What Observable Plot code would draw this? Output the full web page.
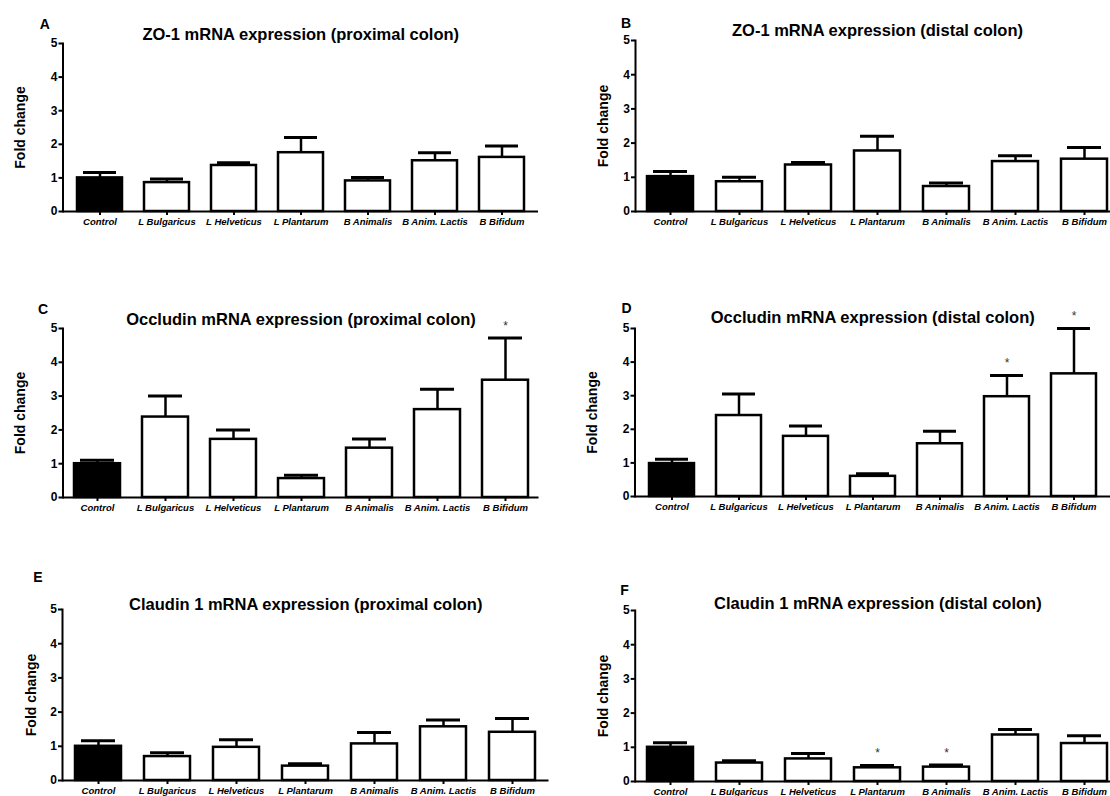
<!DOCTYPE html>
<html><head><meta charset="utf-8">
<script src="https://cdn.jsdelivr.net/npm/d3@7"></script>
<script src="https://cdn.jsdelivr.net/npm/@observablehq/plot@0.6"></script>
<style>
html,body{margin:0;padding:0;background:#fff;overflow:hidden}
#page{position:relative;width:1110px;height:796px;overflow:hidden;background:#fff}
#page svg{position:absolute;overflow:visible}
</style></head><body><div id="page"></div>
<script>
const categories = ["Control","L Bulgaricus","L Helveticus","L Plantarum","B Animalis","B Anim. Lactis","B Bifidum"];
const yTicks = [0,1,2,3,4,5];
const yLabel = "Fold change";

const zo1ProximalMean  = [1.00,0.86,1.37,1.75,0.91,1.51,1.61];
const zo1ProximalUpper = [1.16,0.97,1.45,2.20,1.01,1.75,1.95];
const zo1DistalMean    = [1.02,0.87,1.36,1.77,0.73,1.46,1.53];
const zo1DistalUpper   = [1.17,1.00,1.43,2.20,0.83,1.63,1.87];
const occludinProximalMean  = [1.00,2.38,1.72,0.56,1.46,2.60,3.47];
const occludinProximalUpper = [1.10,3.00,2.00,0.66,1.73,3.20,4.72];
const occludinDistalMean    = [0.98,2.41,1.79,0.60,1.57,2.97,3.65];
const occludinDistalUpper   = [1.11,3.05,2.10,0.68,1.94,3.60,5.00];
const claudinProximalMean   = [1.00,0.70,0.97,0.42,1.07,1.57,1.41];
const claudinProximalUpper  = [1.16,0.81,1.19,0.49,1.40,1.77,1.81];
const claudinDistalMean     = [1.00,0.54,0.66,0.40,0.42,1.36,1.11];
const claudinDistalUpper    = [1.13,0.61,0.82,0.47,0.48,1.52,1.34];

const occludinProximalStars = ["B Bifidum"];
const occludinDistalStars = ["B Anim. Lactis","B Bifidum"];
const claudinDistalStars = ["L Plantarum","B Animalis"];

const panelLetters = ["A","B","C","D","E","F"];
const panelTitles = [
  "ZO-1 mRNA expression (proximal colon)",
  "ZO-1 mRNA expression (distal colon)",
  "Occludin mRNA expression (proximal colon)",
  "Occludin mRNA expression (distal colon)",
  "Claudin 1 mRNA expression (proximal colon)",
  "Claudin 1 mRNA expression (distal colon)"
];

const FONT = '"Liberation Sans", Arial, Helvetica, sans-serif';
const page = document.getElementById("page");

const layouts = [
  {left:0,   w:555, x0:62.5, x1:538,  y5:43,  y0:211, tDy:-8.5, lDx:-18.2, lDy:-19,   fDx:-42},
  {left:555, w:600, x0:635,  x1:1119, y5:40,  y0:211, tDy:-10,  lDx:-9.5,  lDy:-17,   fDx:-32},
  {left:0,   w:555, x0:62.5, x1:538.5,y5:328, y0:497, tDy:-9,   lDx:-20,   lDy:-19.4, fDx:-42},
  {left:555, w:600, x0:634.5,x1:1110, y5:328, y0:496, tDy:-10.5,lDx:-8.5,  lDy:-20.3, fDx:-42},
  {left:0,   w:555, x0:62,   x1:548.5,y5:609, y0:780, tDy:-4.5, lDx:-24.5, lDy:-32,   fDx:-31},
  {left:555, w:600, x0:634.7,x1:1120, y5:610, y0:781, tDy:-7,   lDx:-10.7, lDy:-19.5, fDx:-32}
];
const series = [
  [zo1ProximalMean, zo1ProximalUpper, []],
  [zo1DistalMean, zo1DistalUpper, []],
  [occludinProximalMean, occludinProximalUpper, occludinProximalStars],
  [occludinDistalMean, occludinDistalUpper, occludinDistalStars],
  [claudinProximalMean, claudinProximalUpper, []],
  [claudinDistalMean, claudinDistalUpper, claudinDistalStars]
];

layouts.forEach((p, k) => {
  const [mean, upper, stars] = series[k];
  const rows = categories.map((c, i) => ({cat: c, mean: mean[i], upper: upper[i], star: stars.includes(c)}));
  const mT = 48, mB = 30;
  const height = mT + (p.y0 - p.y5) + mB;
  const chart = Plot.plot({
    width: p.w, height,
    marginLeft: p.x0 - p.left, marginRight: p.left + p.w - p.x1,
    marginTop: mT, marginBottom: mB,
    style: {fontFamily: FONT, color: "black", background: "transparent", overflow: "visible"},
    x: {domain: categories, paddingInner: 0.33, paddingOuter: 0.165},
    y: {domain: [0, 5]},
    marks: [
      Plot.ruleX(rows, {x: "cat", y1: "mean", y2: "upper", stroke: "black", strokeWidth: 2.5}),
      Plot.tickY(rows, {x: "cat", y: "upper", stroke: "black", strokeWidth: 3, inset: 6}),
      Plot.barY(rows.filter(d => d.cat !== "Control"), {x: "cat", y: "mean", fill: "white", stroke: "black", strokeWidth: 2.5}),
      Plot.barY(rows.filter(d => d.cat === "Control"), {x: "cat", y: "mean", fill: "black", stroke: "black", strokeWidth: 2.5}),
      Plot.text(rows.filter(d => d.star), {x: "cat", y: "upper", text: () => "*", dy: -12, fontSize: 12, fill: "#333"}),
      Plot.ruleY([0], {stroke: "black", strokeWidth: 2}),
      Plot.frame({anchor: "left", stroke: "black", strokeWidth: 2}),
      Plot.axisY(yTicks, {tickSize: 4, tickPadding: 1.5, fontSize: 12, fontWeight: "bold", label: null, strokeWidth: 2}),
      Plot.axisX({tickSize: 4, tickPadding: 2.5, fontSize: 9.5, fontStyle: "italic", fontWeight: "bold", label: null, strokeWidth: 2}),
      Plot.text([panelTitles[k]], {frameAnchor: "top", lineAnchor: "middle", textAnchor: "middle", dy: p.tDy, fontSize: 16.5, fontWeight: "bold"}),
      Plot.text([panelLetters[k]], {frameAnchor: "top-left", lineAnchor: "middle", textAnchor: "middle", dx: p.lDx, dy: p.lDy, fontSize: 14, fontWeight: "bold"}),
      Plot.text([yLabel], {frameAnchor: "left", lineAnchor: "middle", textAnchor: "middle", rotate: -90, dx: p.fDx, fontSize: 14, fontWeight: "bold"})
    ]
  });
  chart.style.left = p.left + "px";
  chart.style.top = (p.y5 - mT) + "px";
  page.appendChild(chart);
});
</script></body></html>
